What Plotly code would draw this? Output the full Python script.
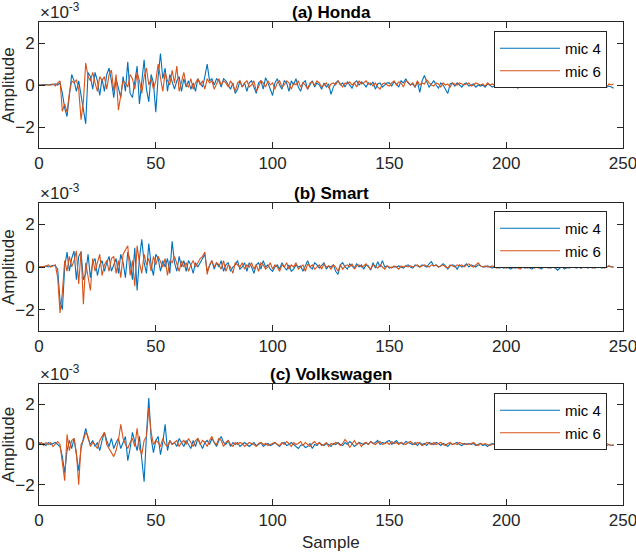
import plotly.graph_objects as go

# ---------------- data (amplitude in units of 1e-3) ----------------
samples = list(range(247))

honda_mic4 = [
    0.00, 0.01, 0.00, 0.02, 0.00, 0.03, 0.01, 0.05, 0.00, 0.10,
    -0.40, -1.10, -1.50, -0.60, 0.50, 0.20, -0.30, 0.20, -0.50, -1.20,
    -1.85, 0.60, 0.40, -0.20, 0.60, 0.20, -0.50, 0.30, -0.30, 0.50,
    0.80, 0.20, -0.60, 0.30, -0.20, -0.60, 0.40, -0.30, 1.10, -0.40,
    -0.60, 0.20, 0.90, -0.90, 0.20, 1.20, -0.20, -0.80, 0.50, 0.10,
    -1.30, 0.40, 1.50, 0.30, 0.80, -0.30, 0.50, 0.10, -0.20, 0.20,
    0.40, -0.30, 0.30, -0.10, 0.20, -0.20, 0.10, -0.30, 0.30, 0.10,
    -0.10, 0.40, 1.00, 0.20, 0.30, 0.00, 0.30, 0.20, -0.10, 0.30,
    0.20, 0.00, -0.20, 0.10, -0.40, -0.20, 0.20, -0.10, 0.10, -0.30,
    0.10, 0.20, -0.10, -0.40, 0.10, 0.20, -0.20, 0.35, 0.10, -0.20,
    -0.50, 0.10, 0.30, 0.00, -0.20, 0.20, 0.10, -0.30, 0.20, 0.00,
    0.30, -0.10, -0.30, 0.10, 0.20, -0.20, 0.00, 0.20, -0.10, 0.10,
    0.00, -0.20, 0.10, -0.10, 0.05, -0.45, -0.10, 0.10, 0.20, 0.00,
    0.10, -0.10, 0.15, 0.00, -0.15, 0.10, 0.20, 0.00, 0.15, 0.05,
    -0.10, 0.10, 0.00, 0.15, -0.20, 0.05, 0.10, -0.10, 0.00, 0.10,
    0.10, -0.05, 0.15, 0.05, -0.10, 0.20, 0.10, 0.30, 0.10, 0.00,
    0.05, -0.10, 0.15, -0.35, 0.20, 0.45, 0.15, -0.10, 0.05, 0.20,
    0.00, -0.15, 0.10, 0.00, -0.20, -0.40, 0.05, 0.10, -0.05, 0.10,
    0.00, -0.10, 0.05, 0.10, -0.05, 0.00, 0.05, -0.10, 0.00, -0.05,
    0.00, -0.10, 0.05, 0.00, -0.10, -0.05, 0.05, 0.00, -0.10, 0.05,
    0.00, -0.05, 0.10, -0.05, 0.00, -0.15, 0.05, 0.00, -0.05, 0.10,
    0.00, -0.10, 0.05, -0.05, 0.00, 0.05, -0.10, 0.00, -0.05, 0.05,
    0.00, 0.05, -0.10, 0.00, 0.05, -0.10, -0.05, 0.00, -0.05, -0.10,
    0.00, -0.05, -0.10, 0.00, -0.05, -0.10, -0.05, 0.00, -0.10, -0.05,
    -0.10, -0.05, 0.00, -0.10, -0.05, -0.10, -0.15,
]

honda_mic6 = [
    0.00, 0.00, 0.01, 0.00, 0.02, 0.00, 0.05, -0.05, 0.10, 0.20,
    -1.25, -0.90, -1.30, -0.40, 0.20, 0.10, 0.25, -0.20, -1.65, -0.80,
    1.05, 0.40, 0.20, 0.60, 0.10, -0.30, 0.40, 0.20, 0.40, -0.20,
    0.50, 0.70, -0.30, 0.50, -1.20, -0.40, 0.20, 0.10, -0.10, 0.50,
    0.30, -0.20, 0.60, 0.20, -0.40, 0.40, 0.80, 0.00, 0.30, -0.20,
    0.20, 1.00, 0.40, -0.30, 0.60, 0.20, 0.00, 0.70, 0.10, 0.90,
    -0.30, 0.20, 0.60, 0.00, -0.10, 0.30, -0.20, 0.10, 0.30, 0.00,
    0.20, -0.20, 0.30, 0.10, 0.20, -0.20, 0.10, 0.30, 0.00, 0.20,
    0.10, -0.10, 0.20, 0.00, -0.30, 0.10, 0.20, -0.10, 0.10, 0.20,
    -0.10, 0.00, 0.20, -0.30, -0.10, 0.20, 0.10, -0.10, 0.20, 0.00,
    0.10, -0.20, 0.10, 0.20, -0.10, 0.00, 0.20, 0.10, -0.20, 0.10,
    0.00, 0.20, -0.10, 0.10, 0.00, -0.20, 0.10, 0.15, 0.00, 0.20,
    0.10, -0.10, 0.00, 0.10, -0.15, 0.05, 0.10, 0.00, 0.20, 0.05,
    -0.10, 0.10, 0.05, 0.15, 0.00, 0.10, -0.10, 0.20, 0.05, 0.10,
    0.20, 0.05, 0.10, -0.05, 0.10, -0.10, -0.20, 0.05, 0.10, 0.00,
    -0.05, 0.10, 0.20, 0.00, 0.15, 0.10, -0.10, 0.20, 0.15, 0.00,
    0.10, -0.10, 0.20, 0.00, 0.10, 0.05, 0.25, 0.10, 0.00, -0.05,
    0.10, 0.05, -0.10, 0.10, 0.00, 0.05, -0.10, 0.10, 0.05, 0.00,
    0.10, 0.05, 0.00, 0.05, 0.10, -0.05, 0.00, 0.10, 0.05, 0.00,
    0.05, -0.05, 0.10, 0.00, 0.05, 0.00, 0.10, 0.05, -0.05, 0.00,
    0.10, 0.05, 0.00, 0.10, 0.05, -0.05, 0.05, 0.00, 0.10, 0.05,
    -0.10, 0.00, 0.05, 0.10, 0.00, -0.05, 0.05, 0.10, 0.00, 0.05,
    0.00, -0.05, 0.05, 0.10, 0.05, 0.00, -0.05, 0.05, 0.00, 0.05,
    0.00, -0.05, 0.00, -0.10, 0.00, 0.05, -0.05, 0.00, -0.10, 0.00,
    0.05, -0.05, 0.00, -0.10, 0.05, 0.00, 0.05,
]

smart_mic4 = [
    0.00, 0.02, 0.00, 0.05, 0.00, 0.03, 0.08, 0.05, -0.10, -1.60,
    -2.00, 0.00, 0.70, -0.20, 0.40, 0.75, -0.60, 0.50, 0.70, -0.60,
    -0.30, 0.60, -0.50, 0.20, 0.40, -0.40, 0.10, 0.30, -0.20, 0.20,
    0.50, -0.20, 0.10, 0.40, -0.30, 0.60, 0.20, -0.50, 0.70, 0.30,
    -0.60, 0.90, -1.10, 0.40, 1.30, 0.20, -0.30, 1.10, 0.10, -0.40,
    0.60, 0.40, -0.20, 0.30, 0.00, 0.40, -0.30, 1.20, 0.20, -0.20,
    0.50, 0.00, 0.30, -0.20, 0.30, 0.10, -0.30, 0.20, 0.00, 0.20,
    0.40, 0.60, -0.20, 0.10, 0.30, -0.10, 0.20, 0.00, 0.30, -0.20,
    0.10, 0.20, -0.20, 0.00, 0.10, 0.30, -0.10, 0.00, 0.20, -0.20,
    0.20, 0.00, -0.30, 0.10, 0.20, -0.10, 0.30, 0.00, 0.10, -0.10,
    -0.20, 0.00, 0.10, -0.10, 0.20, 0.00, -0.15, 0.10, -0.20, -0.10,
    0.10, 0.00, 0.05, -0.20, 0.10, 0.30, 0.00, -0.10, 0.20, 0.10,
    -0.05, 0.10, 0.20, -0.10, 0.05, 0.00, 0.10, -0.20, -0.35, 0.10,
    0.20, 0.00, -0.10, 0.15, 0.05, -0.05, 0.15, 0.00, 0.10, -0.10,
    0.10, 0.05, -0.15, 0.20, -0.05, 0.25, 0.00, 0.30, 0.00, 0.05,
    -0.05, 0.00, 0.00, 0.00, 0.05, 0.00, -0.05, 0.05, 0.10, 0.00,
    -0.05, 0.10, 0.05, 0.00, 0.10, 0.05, 0.00, 0.15, 0.25, 0.05,
    0.10, 0.00, 0.05, 0.15, 0.05, -0.10, 0.05, 0.10, 0.05, -0.10,
    0.10, 0.00, 0.05, 0.15, 0.00, 0.10, 0.05, 0.00, 0.10, 0.05,
    0.00, 0.00, 0.05, 0.00, -0.05, 0.00, 0.00, -0.05, 0.00, -0.05,
    0.00, -0.05, -0.10, 0.00, -0.05, 0.00, 0.05, 0.00, -0.05, 0.00,
    -0.05, -0.10, 0.00, 0.05, 0.00, -0.10, 0.00, 0.05, 0.00, -0.05,
    0.00, -0.05, -0.15, -0.05, 0.00, -0.10, 0.00, -0.05, 0.00, 0.00,
    -0.05, 0.00, -0.05, 0.00, 0.00, -0.05, 0.00, 0.00, -0.05, 0.00,
    0.00, -0.05, 0.00, 0.00, 0.05, 0.00, 0.00,
]

smart_mic6 = [
    0.00, 0.00, 0.03, 0.05, 0.10, 0.00, 0.05, 0.10, -0.50, -2.15,
    -1.20, 0.30, -0.20, 0.50, 0.00, 0.30, 0.75, -0.80, 0.75, -1.75,
    0.20, -0.50, -1.10, 0.40, -0.20, 0.20, 0.60, -0.40, 0.10, 0.30,
    -0.20, 0.40, 0.50, -0.30, 0.30, -0.50, 0.60, 0.80, 1.00, -0.40,
    0.30, -0.90, 1.00, 0.20, -0.30, 0.60, 0.10, 0.40, -0.20, 0.50,
    0.10, 0.50, 0.20, 0.00, 0.40, -0.40, 0.30, 0.20, 0.50, 0.10,
    -0.20, 0.30, 0.00, 0.20, -0.20, 0.10, 0.30, 0.00, 0.20, 0.40,
    0.50, 0.70, -0.35, 0.10, 0.30, 0.00, 0.20, 0.10, -0.10, 0.30,
    -0.20, 0.10, 0.00, -0.30, 0.20, 0.10, 0.00, 0.20, -0.10, 0.10,
    0.00, 0.20, -0.10, 0.10, -0.20, 0.20, 0.10, -0.10, 0.00, 0.20,
    -0.10, 0.10, 0.00, -0.20, 0.10, 0.00, 0.20, -0.10, 0.10, 0.00,
    0.20, -0.10, 0.00, 0.10, -0.20, 0.15, 0.00, 0.10, -0.10, 0.00,
    0.10, -0.10, 0.15, 0.00, 0.05, -0.10, 0.10, 0.00, -0.20, 0.10,
    -0.10, 0.05, 0.10, 0.00, 0.15, -0.10, 0.05, 0.10, 0.00, 0.05,
    0.15, 0.00, -0.10, 0.10, 0.05, -0.05, 0.10, 0.00, -0.10, 0.05,
    0.00, -0.05, 0.05, 0.00, -0.10, 0.05, 0.00, 0.05, 0.00, 0.05,
    0.00, 0.05, 0.10, 0.00, 0.05, 0.10, 0.05, 0.00, 0.10, 0.05,
    0.10, 0.00, 0.05, 0.10, 0.00, -0.05, 0.10, 0.05, 0.00, 0.10,
    0.05, 0.10, 0.00, 0.10, 0.15, 0.05, 0.00, 0.10, 0.20, 0.05,
    0.00, 0.05, 0.00, 0.00, 0.05, 0.00, -0.05, 0.00, 0.05, 0.00,
    -0.05, 0.00, 0.05, -0.05, 0.00, -0.05, -0.10, 0.00, 0.00, -0.05,
    0.00, 0.05, -0.05, 0.00, -0.05, 0.00, 0.05, 0.00, -0.05, 0.00,
    0.00, -0.05, 0.00, 0.00, 0.05, 0.00, -0.05, 0.00, 0.05, 0.00,
    0.00, 0.05, -0.05, 0.00, 0.00, 0.05, 0.00, -0.05, 0.00, 0.05,
    0.00, 0.00, -0.05, 0.00, 0.05, 0.00, 0.00,
]

volkswagen_mic4 = [
    0.10, 0.00, 0.05, -0.05, 0.10, 0.00, 0.05, 0.10, 0.00, -0.10,
    -0.60, -1.40, -0.30, 0.20, -0.20, 0.30, -0.50, -1.30, -0.20, 0.30,
    0.80, 0.30, 0.00, 0.20, -0.10, 0.10, -0.30, 0.20, 0.60, 0.20,
    -0.10, 0.30, -0.20, 0.10, 0.30, -0.20, 0.10, 0.40, -0.80, -0.20,
    0.60, 0.20, -0.30, 0.40, -0.60, -1.85, 0.50, 2.30, 0.30, -0.40,
    0.20, 0.40, -0.50, 0.10, 1.00, -0.30, 0.20, 0.00, 0.10, -0.10,
    0.30, 0.10, -0.10, 0.20, 0.00, -0.20, 0.20, -0.10, 0.30, 0.00,
    -0.20, 0.10, 0.20, 0.00, 0.30, 0.10, -0.10, 0.20, 0.40, 0.10,
    0.00, 0.20, -0.10, 0.10, 0.00, 0.10, -0.10, 0.00, 0.10, 0.00,
    -0.10, 0.00, 0.10, -0.05, 0.00, 0.10, -0.10, 0.00, 0.05, -0.05,
    0.00, 0.10, 0.00, -0.10, 0.05, 0.10, -0.05, 0.00, 0.10, 0.00,
    -0.10, -0.20, -0.05, 0.00, -0.15, -0.10, 0.05, -0.20, 0.00, -0.05,
    0.10, 0.00, -0.05, 0.05, 0.00, -0.10, 0.05, 0.00, 0.10, 0.00,
    -0.05, 0.10, 0.00, 0.15, 0.05, -0.10, 0.00, 0.10, 0.05, 0.00,
    0.10, 0.00, 0.15, 0.05, 0.10, 0.20, 0.00, 0.10, 0.05, 0.15,
    0.20, 0.00, 0.10, 0.20, 0.05, 0.10, 0.00, 0.15, 0.10, 0.05,
    0.00, 0.10, -0.05, 0.10, 0.00, 0.05, -0.05, 0.10, 0.05, 0.00,
    0.10, 0.05, -0.05, 0.05, 0.00, -0.10, 0.05, 0.00, 0.05, 0.10,
    0.00, -0.05, 0.05, 0.00, 0.05, 0.00, 0.05, -0.05, 0.00, 0.05,
    -0.05, 0.00, -0.10, 0.00, 0.05, 0.00, 0.10, 0.05, 0.10, 0.00,
    0.05, 0.00, -0.05, 0.00, -0.10, 0.00, 0.05, -0.05, 0.00, -0.05,
    -0.10, 0.00, -0.05, 0.00, -0.10, -0.05, 0.00, -0.10, -0.05, -0.10,
    -0.05, 0.00, -0.10, -0.05, 0.00, -0.10, -0.05, -0.10, 0.00, -0.05,
    -0.10, -0.05, 0.00, -0.05, -0.10, 0.00, -0.05, -0.10, -0.05, 0.00,
    -0.05, 0.00, -0.10, -0.05, 0.00, -0.05, -0.05,
]

volkswagen_mic6 = [
    0.05, 0.10, -0.05, 0.10, 0.00, 0.10, -0.10, 0.05, 0.15, 0.00,
    -1.00, -1.80, 0.50, -0.30, 0.20, 0.30, -0.40, -2.00, 0.00, 0.20,
    0.60, 0.40, -0.10, 0.10, 0.00, -0.20, 0.20, 0.40, 0.60, 0.00,
    -0.20, -0.40, -0.60, -0.30, 0.20, 1.00, 0.30, 0.00, -0.20, 0.10,
    0.30, -0.10, 0.80, -0.20, -0.50, 0.20, 0.40, 1.80, 0.60, 0.00,
    0.20, 0.10, -0.10, 0.30, 0.00, -0.10, 0.20, 0.00, 0.10, 0.20,
    -0.10, 0.10, 0.20, 0.00, 0.30, 0.10, -0.10, 0.20, 0.30, 0.00,
    0.20, 0.10, -0.10, 0.20, 0.40, 0.10, 0.00, 0.30, 0.20, -0.10,
    0.10, 0.20, 0.00, -0.10, 0.10, 0.00, 0.10, 0.05, -0.10, 0.00,
    0.10, 0.05, 0.00, -0.10, 0.05, 0.10, 0.00, 0.05, -0.05, 0.00,
    0.05, 0.10, 0.00, -0.05, 0.10, 0.00, 0.15, 0.05, -0.10, 0.10,
    0.00, 0.05, 0.15, -0.05, 0.10, 0.00, -0.10, 0.05, 0.15, 0.00,
    0.10, -0.05, 0.00, 0.10, -0.10, 0.05, 0.00, 0.10, 0.05, -0.05,
    0.05, 0.25, 0.10, -0.15, 0.05, 0.20, 0.00, 0.10, -0.10, 0.05,
    0.10, 0.00, 0.15, 0.05, 0.00, 0.10, 0.15, 0.00, 0.05, 0.10,
    0.00, 0.15, 0.05, 0.10, 0.00, 0.10, 0.05, 0.00, 0.10, 0.15,
    0.05, 0.00, 0.10, 0.05, -0.05, 0.00, 0.10, 0.05, 0.00, 0.10,
    0.00, 0.05, 0.10, 0.00, -0.05, 0.05, 0.10, 0.00, 0.05, 0.00,
    0.10, 0.05, 0.00, 0.05, 0.00, 0.05, 0.10, 0.00, -0.05, 0.05,
    0.00, 0.05, 0.00, -0.05, 0.00, 0.05, 0.10, 0.05, 0.00, 0.05,
    0.00, -0.05, 0.00, 0.05, -0.05, 0.00, 0.05, 0.00, -0.05, 0.00,
    0.00, -0.05, 0.00, 0.05, -0.05, 0.00, -0.05, 0.00, 0.05, -0.05,
    0.00, -0.05, 0.00, -0.10, 0.00, -0.05, 0.00, -0.05, -0.10, 0.00,
    -0.05, 0.00, -0.05, 0.00, -0.10, -0.05, 0.00, -0.05, 0.00, 0.05,
    0.00, -0.05, 0.00, 0.05, 0.00, -0.05, 0.00,
]

panel_titles = ["(a) Honda", "(b) Smart", "(c) Volkswagen"]
series_names = ["mic 4", "mic 6"]
x_ticks = [0, 50, 100, 150, 200, 250]
y_ticks = [-2, 0, 2]
panels = [
    (honda_mic4, honda_mic6),
    (smart_mic4, smart_mic6),
    (volkswagen_mic4, volkswagen_mic6),
]

# ---------------- styling / layout ----------------
W, H = 636, 552
M_L, M_R, M_T, M_B = 39, 13, 22, 47
plot_h = H - M_T - M_B
plot_w = W - M_L - M_R
# panel pixel extents (top, bottom) measured from top of figure
panel_px = [(22, 148), (203, 331), (384, 505)]
legend_top_px = [31, 211, 393]
colors = ["#0072BD", "#D95319"]
axis_col = "#262626"
FONT = "Liberation Sans, Arial, Helvetica, sans-serif"


def py(px):
    return (H - M_B - px) / plot_h


def pxx(px):
    return (px - M_L) / plot_w


fig = go.Figure()
layout = dict(
    width=W, height=H,
    margin=dict(l=M_L, r=M_R, t=M_T, b=M_B, autoexpand=False),
    paper_bgcolor="white", plot_bgcolor="white",
    font=dict(family=FONT, size=17, color=axis_col),
    annotations=[],
)

for i, (s4, s6) in enumerate(panels):
    n = "" if i == 0 else str(i + 1)
    leg = "legend" if i == 0 else f"legend{i + 1}"
    for name, vals, col in zip(series_names, (s4, s6), colors):
        fig.add_trace(go.Scatter(
            x=samples[:len(vals)], y=vals, mode="lines", name=name,
            line=dict(color=col, width=1.1),
            xaxis="x" + n, yaxis="y" + n, legend=leg,
        ))
    top, bot = panel_px[i]
    common = dict(
        showline=True, linecolor=axis_col, linewidth=1, mirror="ticks",
        ticks="inside", ticklen=6, tickwidth=1, tickcolor=axis_col,
        showgrid=False, zeroline=False, automargin=False,
        ticklabeloverflow="allow",
        tickfont=dict(family=FONT, size=17, color=axis_col),
    )
    layout["xaxis" + n] = dict(
        common, range=[0, 250], tickvals=x_ticks, anchor="y" + n,
        domain=[0, 1],
    )
    layout["yaxis" + n] = dict(
        common, range=[-3, 3], tickvals=y_ticks, anchor="x" + n,
        domain=[py(bot), py(top)],
    )
    layout[leg] = dict(
        x=pxx(607), y=py(legend_top_px[i]),
        xanchor="right", yanchor="top",
        bordercolor=axis_col, borderwidth=1, bgcolor="white",
        font=dict(family=FONT, size=15, color="black"),
        itemwidth=60, tracegroupgap=0,
    )
    # panel title
    layout["annotations"].append(dict(
        text="<b>" + panel_titles[i] + "</b>", xref="paper", yref="paper",
        x=0.5, y=py(top) + 10 / plot_h, xanchor="center", yanchor="middle",
        showarrow=False, font=dict(family=FONT, size=17, color="black"),
    ))
    # exponent label
    layout["annotations"].append(dict(
        text="×10<sup>-3</sup>", xref="paper", yref="paper",
        x=pxx(38), y=py(top) - 2 / plot_h, xanchor="left", yanchor="bottom",
        showarrow=False, font=dict(family=FONT, size=17, color=axis_col),
    ))
    # y axis title
    layout["annotations"].append(dict(
        text="Amplitude", xref="paper", yref="paper", textangle=-90,
        x=pxx(8), y=py((top + bot) / 2), xanchor="center", yanchor="middle",
        showarrow=False, font=dict(family=FONT, size=17, color=axis_col),
    ))

# x axis title of the bottom panel
layout["annotations"].append(dict(
    text="Sample", xref="paper", yref="paper",
    x=0.5, y=py(542), xanchor="center", yanchor="middle",
    showarrow=False, font=dict(family=FONT, size=17, color=axis_col),
))

fig.update_layout(**layout)
fig.write_html(
    "out.html",
    config={"displayModeBar": False},
    post_script="document.body.style.margin='0';"
                "document.body.style.overflow='hidden';",
)
